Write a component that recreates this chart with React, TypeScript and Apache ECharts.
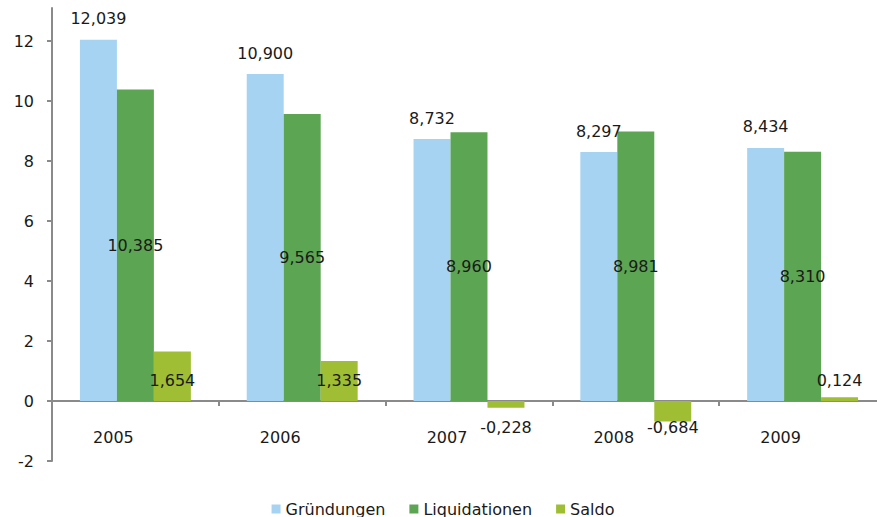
import React, { useEffect, useRef } from "react";
import * as echarts from "echarts";

const categories = ["2005", "2006", "2007", "2008", "2009"];
const gruendungen = [12.039, 10.9, 8.732, 8.297, 8.434];
const liquidationen = [10.385, 9.565, 8.96, 8.981, 8.31];
const saldo = [1.654, 1.335, -0.228, -0.684, 0.124];
const yTicks = [-2, 0, 2, 4, 6, 8, 10, 12];
const seriesNames = ["Gründungen", "Liquidationen", "Saldo"];

const FONT = "DejaVu Sans";
const fmt = (v: number) => v.toFixed(3).replace(".", ",");

export default function App() {
  const ref = useRef<HTMLDivElement>(null);
  useEffect(() => {
    if (!ref.current) return;
    const chart = echarts.init(ref.current, undefined, { renderer: "svg" });
    const labelText = { fontFamily: FONT, fontSize: 16, color: "#1a1a1a" };
    chart.setOption({
      animation: false,
      textStyle: { fontFamily: FONT },
      grid: { left: 52, right: 0, top: 8, bottom: 56, containLabel: false },
      legend: {
        bottom: 0,
        left: "center",
        padding: [5, 5, 0, 37],
        itemWidth: 9,
        itemHeight: 9,
        itemGap: 24,
        icon: "rect",
        textStyle: { fontFamily: FONT, fontSize: 16, color: "#1a1a1a" },
        data: seriesNames,
      },
      xAxis: {
        type: "category",
        data: categories,
        axisLine: { show: true, onZero: true, lineStyle: { color: "#8a8a8a", width: 2 } },
        axisTick: { show: true, length: 5, lineStyle: { color: "#8a8a8a", width: 2 } },
        axisLabel: {
          margin: -32,
          padding: [0, 44, 0, 0],
          fontFamily: FONT,
          fontSize: 16,
          color: "#1a1a1a",
        },
        splitLine: { show: false },
      },
      yAxis: {
        type: "value",
        min: -2,
        max: 13.1,
        interval: 2,
        axisLine: { show: true, lineStyle: { color: "#8a8a8a", width: 2 } },
        axisTick: { show: true, length: 5, customValues: yTicks, lineStyle: { color: "#8a8a8a", width: 2 } },
        axisLabel: {
          margin: 18,
          customValues: yTicks,
          fontFamily: FONT,
          fontSize: 16,
          color: "#1a1a1a",
        },
        splitLine: { show: false },
      },
      series: [
        {
          name: seriesNames[0],
          type: "bar",
          data: gruendungen,
          barGap: "0%",
          barCategoryGap: "33.5%",
          itemStyle: { color: "#A7D3F3" },
          label: {
            show: true,
            position: "top",
            distance: 13,
            formatter: (p: any) => fmt(p.value),
            ...labelText,
          },
        },
        {
          name: seriesNames[1],
          type: "bar",
          data: liquidationen,
          barGap: "0%",
          barCategoryGap: "33.5%",
          itemStyle: { color: "#5CA552" },
          label: {
            show: true,
            position: "inside",
            formatter: (p: any) => fmt(p.value),
            ...labelText,
          },
        },
        {
          name: seriesNames[2],
          type: "bar",
          barGap: "0%",
          barCategoryGap: "33.5%",
          itemStyle: { color: "#9FBE34" },
          data: saldo.map((v) => ({
            value: v,
            label:
              v >= 0
                ? { position: ["50%", "100%"], offset: [0, -21] }
                : { position: ["50%", 0], offset: [0, 26] },
          })),
          label: {
            show: true,
            align: "center",
            verticalAlign: "middle",
            formatter: (p: any) => fmt(p.value),
            ...labelText,
          },
        },
      ],
    });
    return () => chart.dispose();
  }, []);
  return (
    <div style={{ width: 877, height: 517, position: "absolute", left: 0, top: 0, overflow: "hidden" }}>
      <div ref={ref} style={{ width: 886, height: 517 }} />
    </div>
  );
}
